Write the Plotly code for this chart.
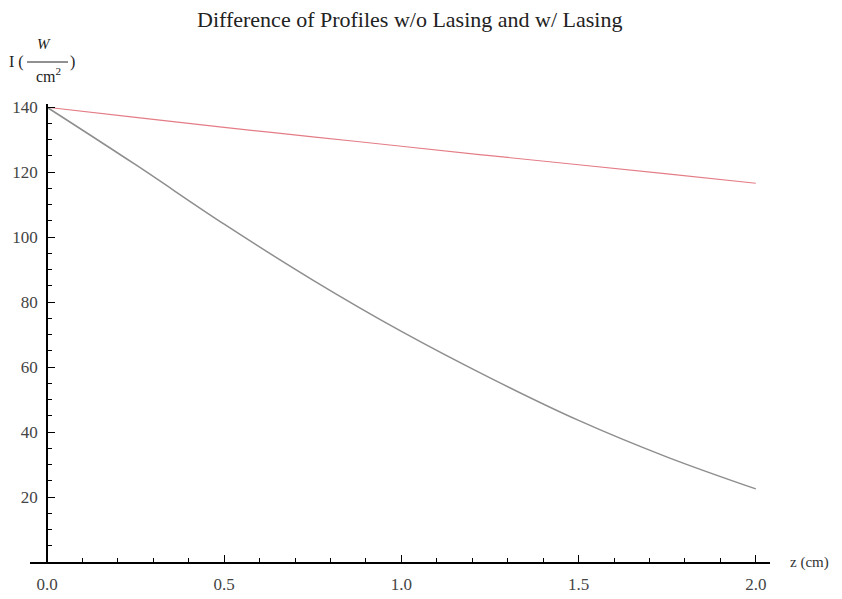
import plotly.graph_objects as go

# z positions (cm) and intensities
z_cm = [0.0, 0.25, 0.5, 0.75, 1.0, 1.25, 1.5, 1.75, 2.0]
no_lasing = [140.0, 136.9, 133.8, 130.9, 128.0, 125.1, 122.3, 119.5, 116.6]
with_lasing = [140.0, 122.3, 104.0, 86.8, 71.0, 56.7, 43.6, 32.3, 22.5]

x_ticks = [0.0, 0.5, 1.0, 1.5, 2.0]
x_tick_labels = ["0.0", "0.5", "1.0", "1.5", "2.0"]
y_ticks = [20, 40, 60, 80, 100, 120, 140]

SERIF = "Liberation Serif, Times New Roman, serif"
OFF = 8  # the page body adds an 8px margin around the figure
W, H = 842 - OFF, 599 - OFF
ML, MT = 30 - OFF, 104 - OFF
plot_w, plot_h = 740, 458
MR, MB = W - ML - plot_w, H - MT - plot_h

fig = go.Figure()
fig.add_trace(go.Scatter(
    x=z_cm, y=no_lasing, mode="lines", line_shape="spline",
    line=dict(color="#e47c86", width=1.2), showlegend=False,
))
fig.add_trace(go.Scatter(
    x=z_cm, y=with_lasing, mode="lines", line_shape="spline",
    line=dict(color="#8e8e8e", width=1.5), showlegend=False,
))


def px_x(p):
    # target page pixel -> paper fraction
    return (p - OFF - ML) / plot_w


def px_y(p):
    return 1 - (p - OFF - MT) / plot_h


fig.update_layout(
    width=W, height=H,
    margin=dict(l=ML, r=MR, t=MT, b=MB, autoexpand=False),
    paper_bgcolor="white", plot_bgcolor="white",
    font=dict(family=SERIF, size=13, color="#333333"),
    xaxis=dict(
        range=[-0.048, 2.04], domain=[0, 1], automargin=False,
        tickvals=x_ticks, ticktext=x_tick_labels,
        ticks="inside", ticklen=7, tickwidth=1.3, tickcolor="black",
        minor=dict(ticks="inside", dtick=0.1, tick0=0, ticklen=4,
                   tickwidth=1.2, tickcolor="black"),
        showline=True, linecolor="black", linewidth=1.6,
        showgrid=False, zeroline=False, ticklabelstandoff=6,
        tickfont=dict(family=SERIF, size=17, color="#444444"),
    ),
    yaxis=dict(
        range=[0, 141], anchor="free", position=px_x(47), automargin=False,
        tickvals=y_ticks,
        ticks="inside", ticklen=7, tickwidth=1.3, tickcolor="black",
        minor=dict(ticks="inside", dtick=5, tick0=0, ticklen=4,
                   tickwidth=1.2, tickcolor="black"),
        showline=True, linecolor="black", linewidth=1.6,
        showgrid=False, zeroline=False, ticklabelstandoff=5,
        tickfont=dict(family=SERIF, size=17, color="#444444"),
    ),
)

# chart title
fig.add_annotation(
    text="Difference of Profiles w/o Lasing and w/ Lasing",
    xref="paper", yref="paper", x=px_x(409), y=px_y(19),
    xanchor="center", yanchor="middle", showarrow=False,
    font=dict(family=SERIF, size=22, color="#222222"),
)

# x-axis label at the right end of the axis
fig.add_annotation(
    text="z (cm)", xref="paper", x=1, xanchor="left", xshift=18,
    yref="y", y=0, yanchor="middle", showarrow=False,
    font=dict(family=SERIF, size=15, color="#333333"),
)

# y-axis label: I (W / cm^2) written as a fraction
fig.add_annotation(text="I (", xref="paper", yref="paper",
                   x=px_x(26), y=px_y(62), xanchor="right", yanchor="middle",
                   showarrow=False, font=dict(family=SERIF, size=16, color="#222222"))
fig.add_annotation(text=")", xref="paper", yref="paper",
                   x=px_x(68), y=px_y(62), xanchor="left", yanchor="middle",
                   showarrow=False, font=dict(family=SERIF, size=16, color="#222222"))
fig.add_annotation(text="<i>W</i>", xref="paper", yref="paper",
                   x=px_x(44), y=px_y(44), xanchor="center", yanchor="middle",
                   showarrow=False, font=dict(family=SERIF, size=15, color="#222222"))
fig.add_annotation(text="cm<sup>2</sup>", xref="paper", yref="paper",
                   x=px_x(48), y=px_y(75), xanchor="center", yanchor="middle",
                   showarrow=False, font=dict(family=SERIF, size=16, color="#222222"))
fig.add_shape(type="line", xref="paper", yref="paper",
              x0=px_x(27), x1=px_x(68), y0=px_y(62), y1=px_y(62),
              line=dict(color="#222222", width=1))

fig.write_html("out.html")
